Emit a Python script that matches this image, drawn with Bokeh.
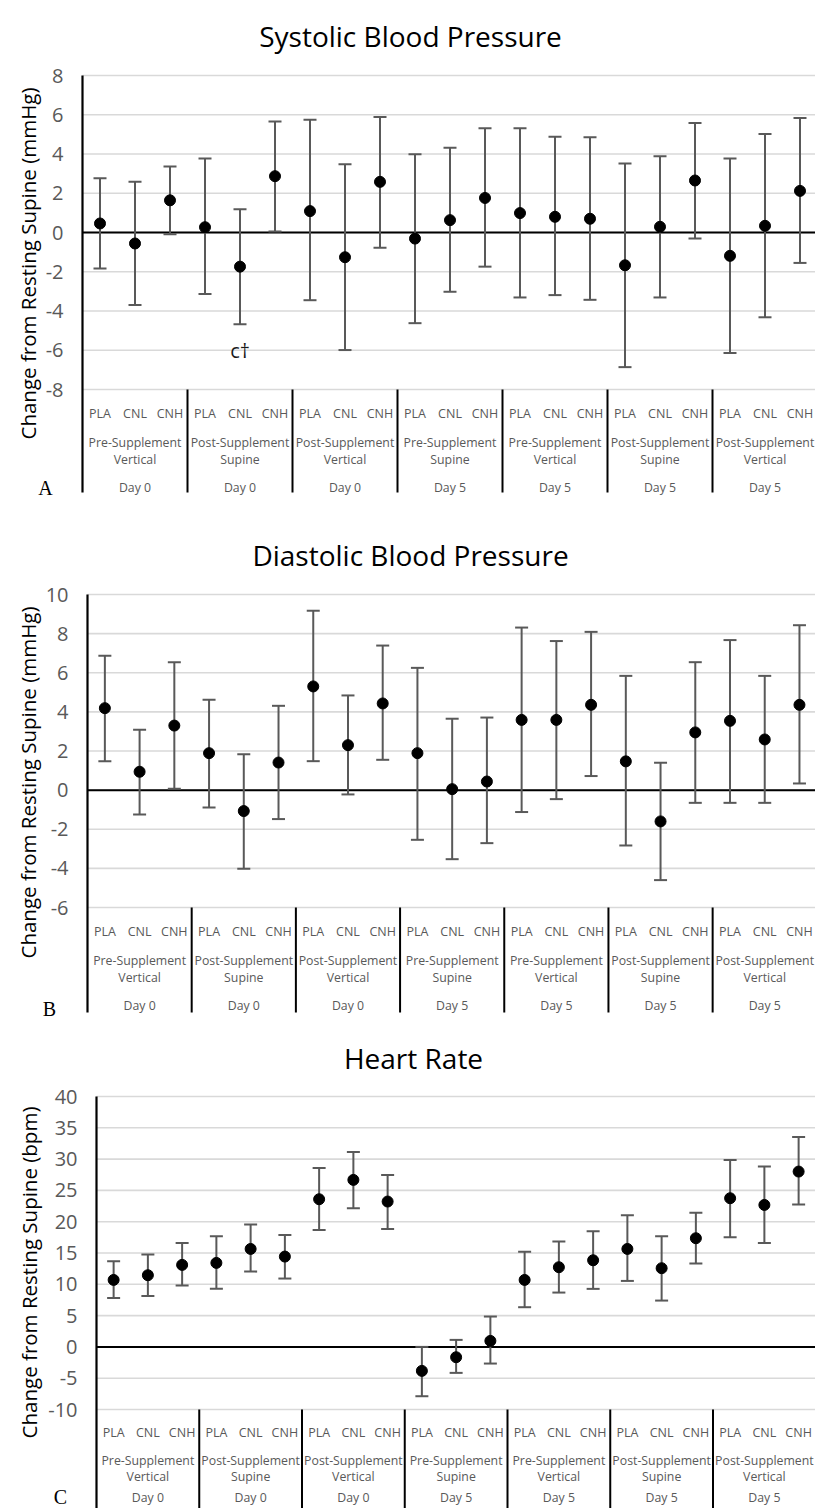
import math
from bokeh.plotting import figure
from bokeh.models import Range1d, ColumnDataSource
from bokeh.layouts import column
from bokeh.embed import file_html
from bokeh.resources import INLINE
from bokeh.core.properties import value

# ---------------- data ----------------
treatments = ["PLA", "CNL", "CNH"]
group_phase = ["Pre-Supplement", "Post-Supplement", "Post-Supplement", "Pre-Supplement",
               "Pre-Supplement", "Post-Supplement", "Post-Supplement"]
group_position = ["Vertical", "Supine", "Vertical", "Supine", "Vertical", "Supine", "Vertical"]
group_day = ["Day 0", "Day 0", "Day 0", "Day 5", "Day 5", "Day 5", "Day 5"]

sbp_mean = [0.46, -0.56, 1.64, 0.27, -1.74, 2.87, 1.09, -1.26, 2.58, -0.31, 0.63, 1.76,
            0.99, 0.80, 0.70, -1.67, 0.29, 2.65, -1.19, 0.34, 2.12]
sbp_upper = [2.76, 2.58, 3.36, 3.77, 1.18, 5.65, 5.75, 3.48, 5.89, 3.99, 4.32, 5.31,
             5.31, 4.88, 4.85, 3.52, 3.89, 5.58, 3.77, 5.02, 5.84]
sbp_lower = [-1.84, -3.69, -0.09, -3.14, -4.68, 0.05, -3.45, -5.99, -0.78, -4.62, -3.02, -1.74,
             -3.31, -3.19, -3.43, -6.86, -3.31, -0.31, -6.14, -4.32, -1.55]
sbp_ticks = [-8, -6, -4, -2, 0, 2, 4, 6, 8]
sbp_note = "c\u2020"
sbp_note_x = 4.5      # category slot of Post-Supplement Supine / CNL
sbp_note_y = -6.0

dbp_mean = [4.19, 0.94, 3.30, 1.89, -1.07, 1.41, 5.30, 2.30, 4.43, 1.89, 0.05, 0.44,
            3.59, 3.59, 4.36, 1.47, -1.60, 2.95, 3.54, 2.59, 4.36]
dbp_upper = [6.87, 3.08, 6.54, 4.62, 1.84, 4.31, 9.17, 4.84, 7.39, 6.25, 3.65, 3.71,
             8.31, 7.62, 8.09, 5.84, 1.40, 6.54, 7.67, 5.84, 8.43]
dbp_lower = [1.48, -1.24, 0.07, -0.89, -4.02, -1.48, 1.48, -0.22, 1.55, -2.54, -3.53, -2.71,
             -1.12, -0.46, 0.72, -2.83, -4.60, -0.65, -0.65, -0.65, 0.34]
dbp_ticks = [-6, -4, -2, 0, 2, 4, 6, 8, 10]

hr_mean = [10.70, 11.45, 13.10, 13.42, 15.65, 14.43, 23.59, 26.68, 23.22, -3.83, -1.65, 0.96,
           10.70, 12.73, 13.84, 15.65, 12.57, 17.36, 23.75, 22.68, 28.01]
hr_upper = [13.68, 14.75, 16.61, 17.68, 19.54, 17.89, 28.59, 31.15, 27.48, 0.0, 1.12, 4.85,
            15.18, 16.83, 18.48, 21.03, 17.68, 21.41, 29.87, 28.81, 33.55]
hr_lower = [7.83, 8.15, 9.80, 9.27, 12.03, 10.92, 18.69, 22.15, 18.85, -7.88, -4.15, -2.66,
            6.34, 8.68, 9.27, 10.54, 7.40, 13.31, 17.52, 16.61, 22.74]
hr_ticks = [-10, -5, 0, 5, 10, 15, 20, 25, 30, 35, 40]

# ---------------- style ----------------
FONT = "Open Sans"
SERIF = "Liberation Serif"
GRAY = "#595959"
GRID = "#d9d9d9"
FIG_W = 815


def make_panel(title, ylabel, letter, mean, upper, lower, ticks, lay, note=None):
    """lay: pixel layout of the panel (relative to the figure's top-left corner)."""
    H = lay["height"]
    ax_px, ppc = lay["axis_x"], lay["px_per_cat"]
    top_px, ppu = lay["top_tick_px"], lay["px_per_unit"]
    top = ticks[-1]

    def X(px):
        return (px - ax_px) / ppc

    def Y(py):
        return top - (py - top_px) / ppu

    p = figure(width=FIG_W, height=H, output_backend="svg", toolbar_location=None,
               x_range=Range1d(X(0), X(FIG_W)), y_range=Range1d(Y(H), Y(0)),
               x_axis_location=None, y_axis_location=None,
               min_border_left=0, min_border_right=0, min_border_top=0, min_border_bottom=0,
               outline_line_color=None, background_fill_color="white",
               border_fill_color="white")
    p.grid.visible = False
    if "frame_align" in p.properties():
        p.frame_align = False

    n_t = len(treatments)
    n_g = len(group_phase)
    n = n_g * n_t
    xs = [i + 0.5 for i in range(n)]
    bottom = Y(lay["bottom_px"])

    # gridlines at the value ticks
    nt = len(ticks)
    p.segment(x0=[0] * nt, x1=[X(FIG_W)] * nt, y0=ticks, y1=ticks,
              line_color=GRID, line_width=1.6)
    # zero reference line
    p.segment(x0=[0], x1=[X(FIG_W)], y0=[0], y1=[0], line_color="black", line_width=2)
    # value axis line (runs through the category area)
    p.segment(x0=[0], x1=[0], y0=[top], y1=[bottom], line_color="black", line_width=2.2)
    # value tick labels
    p.text(x=[X(ax_px - 19)] * nt, y=ticks, text=[str(t) for t in ticks],
           text_align="right", text_baseline="middle", text_font=value(FONT),
           text_font_size="20px", text_color=GRAY)

    # group separators in the category area
    bounds = [g * n_t for g in range(1, n_g)]
    p.segment(x0=bounds, x1=bounds, y0=[ticks[0]] * len(bounds), y1=[bottom] * len(bounds),
              line_color="black", line_width=2)

    # error bars and means
    src = ColumnDataSource(dict(x=xs, m=mean, hi=upper, lo=lower))
    p.segment(x0="x", x1="x", y0="lo", y1="hi", source=src, line_color=GRAY, line_width=2)
    p.scatter("x", "hi", source=src, marker="dash", size=13, line_color=GRAY, line_width=2)
    p.scatter("x", "lo", source=src, marker="dash", size=13, line_color=GRAY, line_width=2)
    p.scatter("x", "m", source=src, marker="circle", size=11, fill_color="black",
              line_color="black")

    # category labels (three levels)
    base_px = top_px + (top - ticks[0]) * ppu
    offs = lay["row_off"]
    tsrc = ColumnDataSource(dict(x=xs, y=[Y(base_px + offs[0])] * n,
                                 t=treatments * n_g))
    p.text("x", "y", text="t", source=tsrc, text_align="center",
           text_baseline="alphabetic", text_font=value(FONT), text_font_size="12.5px",
           text_color=GRAY)
    gx = [g * n_t + n_t / 2 for g in range(n_g)]
    for labels, off in ((group_phase, offs[1]), (group_position, offs[2]),
                        (group_day, offs[3])):
        gsrc = ColumnDataSource(dict(x=gx, y=[Y(base_px + off)] * n_g, t=labels))
        p.text("x", "y", text="t", source=gsrc, text_align="center",
               text_baseline="alphabetic", text_font=value(FONT), text_font_size="12.3px",
               text_color=GRAY)

    if note is not None:
        p.text(x=[note[1]], y=[note[2]], text=[note[0]], text_align="center",
               text_baseline="middle", text_font=value(FONT), text_font_size="20px",
               text_color="#1a1a1a")

    # title, value-axis title and panel letter
    tx, ty = lay["title"]
    p.text(x=[X(tx)], y=[Y(ty)], text=[title], text_align="center",
           text_baseline="alphabetic", text_font=value(FONT), text_font_size="28px",
           text_color="#000000")
    lx, ly = lay["ylabel"]
    p.text(x=[X(lx)], y=[Y(ly)], text=[ylabel], angle=math.pi / 2, text_align="center",
           text_baseline="middle", text_font=value(FONT), text_font_size="20.5px",
           text_color="#000000")
    kx, ky = lay["letter"]
    p.text(x=[X(kx)], y=[Y(ky)], text=[letter], text_align="center",
           text_baseline="alphabetic", text_font=value(SERIF), text_font_size="20px",
           text_color="#000000")
    return p


lay_a = dict(height=500, axis_x=82, px_per_cat=35.0, top_tick_px=75, px_per_unit=19.625,
             bottom_px=492, title=(410, 35), ylabel=(27, 263), letter=(45, 487),
             row_off=(24, 53, 70, 98))
lay_b = dict(height=520, axis_x=87, px_per_cat=34.73, top_tick_px=94, px_per_unit=19.5625,
             bottom_px=512, title=(410, 54), ylabel=(27, 282), letter=(49, 508),
             row_off=(24, 53, 70, 98))
lay_c = dict(height=488, axis_x=96, px_per_cat=34.25, top_tick_px=76, px_per_unit=6.26,
             bottom_px=488, title=(413, 37), ylabel=(28, 252), letter=(60, 476),
             row_off=(23, 51, 67, 88))

pa = make_panel("Systolic Blood Pressure", "Change from Resting Supine (mmHg)", "A",
                sbp_mean, sbp_upper, sbp_lower, sbp_ticks, lay_a,
                note=(sbp_note, sbp_note_x, sbp_note_y))
pb = make_panel("Diastolic Blood Pressure", "Change from Resting Supine (mmHg)", "B",
                dbp_mean, dbp_upper, dbp_lower, dbp_ticks, lay_b)
pc = make_panel("Heart Rate", "Change from Resting Supine (bpm)", "C",
                hr_mean, hr_upper, hr_lower, hr_ticks, lay_c)

layout = column(pa, pb, pc, spacing=0)
open("out.html", "w").write(file_html(layout, INLINE))
